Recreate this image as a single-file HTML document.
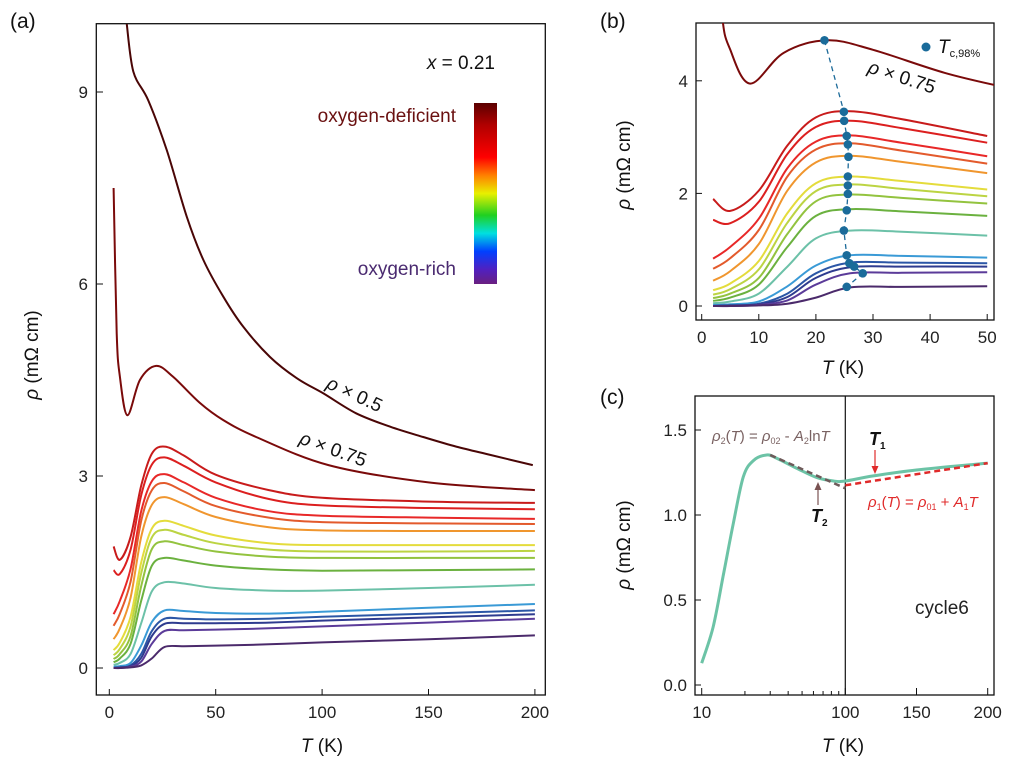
<!DOCTYPE html>
<html><head><meta charset="utf-8">
<style>
body{margin:0;background:#fff;width:1012px;height:760px;overflow:hidden}
svg{font-family:"Liberation Sans",Arial,sans-serif}
.tk{font-size:17px;fill:#222}
.lab{font-size:19px;fill:#111}
</style></head>
<body>
<svg id="fig" width="1012" height="760" viewBox="0 0 1012 760">
<defs>
<clipPath id="clipA"><rect x="96" y="24" width="449" height="671"/></clipPath>
<clipPath id="clipB"><rect x="696" y="23" width="298" height="297"/></clipPath>
<linearGradient id="cbar" x1="0" y1="0" x2="0" y2="1">
<stop offset="0" stop-color="#5a0000"/><stop offset="0.12" stop-color="#b00000"/><stop offset="0.3" stop-color="#ff0000"/><stop offset="0.4" stop-color="#ff8000"/><stop offset="0.5" stop-color="#e8f000"/><stop offset="0.62" stop-color="#20d020"/><stop offset="0.72" stop-color="#00e0e0"/><stop offset="0.82" stop-color="#0040ff"/><stop offset="0.92" stop-color="#5020c0"/><stop offset="1" stop-color="#6a2080"/>
</linearGradient>
</defs>
</svg>
<script>
// ---------- data ----------
const tempsSC = [2,5,10,15,20,26,35,50,75,100,150,200];
const curveColors = ["#c81b1b","#dc1f1f","#e82828","#e35a2c","#f0962e","#e4dc3c","#bcd443","#93c33f","#6bb13f","#6cc1a8","#3a9ad6","#2b56a6","#2e3b8f","#5b3b99","#4b2a6b"];
const rho1 = [1.90,1.69,2.05,2.85,3.35,3.46,3.32,3.02,2.78,2.66,2.60,2.58];
const rho2 = [1.53,1.47,1.85,2.70,3.18,3.29,3.16,2.90,2.64,2.54,2.50,2.48];
const rho3 = [0.84,1.05,1.55,2.45,2.92,3.03,2.90,2.66,2.45,2.38,2.35,2.33];
const rho4 = [0.66,0.85,1.35,2.30,2.78,2.89,2.76,2.53,2.35,2.28,2.26,2.25];
const rho5 = [0.45,0.62,1.10,2.05,2.55,2.67,2.56,2.36,2.20,2.15,2.14,2.14];
const rho6 = [0.28,0.40,0.80,1.65,2.18,2.30,2.22,2.07,1.95,1.92,1.92,1.92];
const rho7 = [0.20,0.30,0.65,1.48,2.04,2.16,2.08,1.95,1.85,1.82,1.82,1.83];
const rho8 = [0.14,0.22,0.50,1.28,1.86,1.98,1.92,1.82,1.74,1.72,1.72,1.72];
const rho9 = [0.09,0.15,0.38,1.05,1.60,1.72,1.68,1.60,1.54,1.52,1.53,1.54];
const rho10 = [0.05,0.08,0.22,0.70,1.20,1.34,1.32,1.25,1.21,1.21,1.25,1.30];
const rho11 = [0.02,0.03,0.08,0.35,0.72,0.90,0.89,0.86,0.85,0.88,0.94,1.00];
const rho12 = [0.00,0.01,0.04,0.22,0.58,0.77,0.77,0.76,0.77,0.80,0.85,0.90];
const rho13 = [0.00,0.01,0.03,0.16,0.50,0.69,0.70,0.70,0.71,0.74,0.79,0.84];
const rho14 = [0.00,0.00,0.02,0.10,0.38,0.58,0.59,0.60,0.62,0.65,0.71,0.77];
const rho15 = [0.00,0.00,0.01,0.04,0.15,0.33,0.34,0.35,0.37,0.40,0.45,0.51];
const scCurves = [rho1,rho2,rho3,rho4,rho5,rho6,rho7,rho8,rho9,rho10,rho11,rho12,rho13,rho14,rho15];
const tempsX75 = [2,3.5,5,8.5,14.4,22,30,42.6,53.5,69,103,150,200];
const rhoX75 = [7.50,5.23,4.55,3.95,4.50,4.72,4.55,4.14,3.875,3.61,3.17,2.90,2.78];
const tempsX50 = [8.2,11.3,18.3,27,36.4,44.2,53.6,63,75.5,88,100.6,116,132,147.5,163,179,199];
const rhoX50 = [10.07,9.32,8.87,8.09,7.05,6.375,5.80,5.33,4.86,4.53,4.29,3.98,3.77,3.61,3.46,3.33,3.17];
const tcT = [21.5,24.9,24.95,25.4,25.6,25.7,25.6,25.6,25.6,25.4,24.9,25.4,25.85,26.7,28.2,25.4];
const tcRho = [4.72,3.45,3.29,3.02,2.87,2.65,2.30,2.14,1.99,1.70,1.34,0.90,0.76,0.70,0.58,0.34];
const cT = [10,12,14.1,16.6,19.5,22.9,28.3,33.3,45.9,63.4,82.6,100,119.7,150,200];
const cRho = [0.128,0.34,0.64,0.95,1.225,1.32,1.353,1.334,1.275,1.22,1.20,1.20,1.23,1.265,1.305];
const fit2T = [30,100], fit2Rho = [1.353,1.157];
const fit1T = [100,200], fit1Rho = [1.175,1.305];
const ticksAX = [0,50,100,150,200], ticksAY = [0,3,6,9];
const ticksBX = [0,10,20,30,40,50], ticksBY = [0,2,4];
const ticksCX = [10,100,150,200], ticksCY = [0,0.5,1.0,1.5];

// ---------- axes ----------
const ax = t => 109.3 + t*2.128, ay = r => 668 - r*64;
const bx = t => 701.7 + t*5.71, by = r => 306 - r*56.3;
const cx = t => t<=100 ? 701.7 + Math.log10(t/10)*143.6 : 845.3 + (t-100)*1.424;
const cy = r => 685 - r*170;

const svg = document.getElementById('fig');
const NS = 'http://www.w3.org/2000/svg';
function mk(tag, attrs, parent){const e=document.createElementNS(NS,tag);for(const k in attrs)e.setAttribute(k,attrs[k]);(parent||svg).appendChild(e);return e;}
function smooth(pts){
  let d='M'+pts[0][0].toFixed(1)+','+pts[0][1].toFixed(1);
  for(let i=0;i<pts.length-1;i++){
    const p0=pts[i-1]||pts[i],p1=pts[i],p2=pts[i+1],p3=pts[i+2]||p2;
    const c1=[p1[0]+(p2[0]-p0[0])/6,p1[1]+(p2[1]-p0[1])/6];
    const c2=[p2[0]-(p3[0]-p1[0])/6,p2[1]-(p3[1]-p1[1])/6];
    d+=` C${c1[0].toFixed(1)},${c1[1].toFixed(1)} ${c2[0].toFixed(1)},${c2[1].toFixed(1)} ${p2[0].toFixed(1)},${p2[1].toFixed(1)}`;
  }
  return d;
}
function text(x,y,s,cls,anchor,extra){
  extra=extra||{};
  const a={x:x,y:y,'class':cls||'tk','text-anchor':anchor||'middle'};
  let style='';
  for(const k in extra){ if(k==='fill'||k==='font-size'){ style+=k+':'+extra[k]+(k==='font-size'?'px':'')+';'; } else a[k]=extra[k]; }
  if(style) a.style=style;
  const t=mk('text',a);t.innerHTML=s;return t;
}

// ---------- panel a ----------
const gA = mk('g',{});


const frA = mk('rect',{x:96.3,y:23.7,width:449,height:671.3,fill:'none',stroke:'#111','stroke-width':1.3},gA);


const curvesA = mk('g',{'clip-path':'url(#clipA)'},gA);
scCurves.forEach((arr,i)=>{
  const p = mk('path',{d:smooth(tempsSC.map((t,j)=>[ax(t),ay(arr[j])])),fill:'none',stroke:curveColors[i],'stroke-width':2},curvesA);
  
  
});
const pa75 = mk('path',{d:smooth(tempsX75.map((t,j)=>[ax(t),ay(rhoX75[j])])),fill:'none',stroke:'#7a0a0a','stroke-width':2},curvesA);


const pa50 = mk('path',{d:smooth(tempsX50.map((t,j)=>[ax(t),ay(rhoX50[j])])),fill:'none',stroke:'#4a0606','stroke-width':2},curvesA);


ticksAX.forEach(v=>{mk('line',{x1:ax(v),x2:ax(v),y1:695,y2:689,stroke:'#111'},gA);const t=text(ax(v),718,v);});
ticksAY.forEach(v=>{mk('line',{x1:96,x2:103,y1:ay(v),y2:ay(v),stroke:'#111'},gA);const t=text(88,ay(v)+6,v,'tk','end');});
let t;
t=text(322,752,'<tspan font-style="italic">T</tspan> (K)','lab');
t=text(0,0,'<tspan font-style="italic">ρ</tspan> (mΩ cm)','lab','middle',{transform:'translate(38,355) rotate(-90)'});
t=text(10,28,'(a)','lab','start',{'font-size':'21'});
t=text(495,69,'<tspan font-style="italic">x</tspan> = 0.21','lab','end',{'font-size':'19'});
t=text(456,122,'oxygen-deficient','lab','end',{'font-size':'19',fill:'#6a1010'});
t=text(456,275,'oxygen-rich','lab','end',{'font-size':'19',fill:'#4a2a70'});
const cb=mk('rect',{x:474,y:103,width:23,height:181,fill:'url(#cbar)'});
t=text(0,0,'<tspan font-style="italic">ρ</tspan> × 0.5','lab','middle',{'font-size':'19',transform:'translate(352,400) rotate(25)'});
t=text(0,0,'<tspan font-style="italic">ρ</tspan> × 0.75','lab','middle',{'font-size':'19',transform:'translate(331,455) rotate(20)'});

// ---------- panel b ----------
const gB = mk('g',{});


const frB = mk('rect',{x:696,y:23,width:298,height:297,fill:'none',stroke:'#111','stroke-width':1.3},gB);


const curvesB = mk('g',{'clip-path':'url(#clipB)'},gB);
const nB = tempsSC.filter(v=>v<=50).length;
scCurves.forEach((arr,i)=>{
  const p = mk('path',{d:smooth(tempsSC.slice(0,nB).map((t,j)=>[bx(t),by(arr[j])])),fill:'none',stroke:curveColors[i],'stroke-width':2},curvesB);
  
  
});
const nB75 = tempsX75.filter(v=>v<=54).length;
const pb75 = mk('path',{d:smooth(tempsX75.slice(0,nB75).map((t,j)=>[bx(t),by(rhoX75[j])])),fill:'none',stroke:'#7a0a0a','stroke-width':2},curvesB);


const tcLine = mk('polyline',{points:tcT.map((v,i)=>bx(v)+','+by(tcRho[i])).join(' '),fill:'none',stroke:'#1c6a99','stroke-width':1.3,'stroke-dasharray':'5,4'},gB);


tcT.forEach((v,i)=>{const c=mk('circle',{cx:bx(v),cy:by(tcRho[i]),r:4.3,fill:'#1a6b9a'},gB);});
const lg=mk('circle',{cx:926,cy:47,r:4.5,fill:'#1a6b9a'},gB);
t=text(938,53,'<tspan font-style="italic">T</tspan><tspan font-size="11" dy="4">c,98%</tspan>','lab','start',{'font-size':'19'});
t=text(0,0,'<tspan font-style="italic">ρ</tspan> × 0.75','lab','middle',{'font-size':'19',transform:'translate(900,83) rotate(18)'});
ticksBX.forEach(v=>{mk('line',{x1:bx(v),x2:bx(v),y1:320,y2:314,stroke:'#111'},gB);const t=text(bx(v),343,v);});
ticksBY.forEach(v=>{mk('line',{x1:696,x2:702,y1:by(v),y2:by(v),stroke:'#111'},gB);const t=text(688,by(v)+6,v,'tk','end');});
t=text(843,374,'<tspan font-style="italic">T</tspan> (K)','lab');
t=text(0,0,'<tspan font-style="italic">ρ</tspan> (mΩ cm)','lab','middle',{transform:'translate(630,165) rotate(-90)'});
t=text(600,28,'(b)','lab','start',{'font-size':'21'});

// ---------- panel c ----------
const gC = mk('g',{});


const frC = mk('rect',{x:695,y:396,width:299,height:299,fill:'none',stroke:'#111','stroke-width':1.3},gC);


mk('line',{x1:cx(100),x2:cx(100),y1:396,y2:695,stroke:'#111','stroke-width':1.2},gC);
const pc = mk('path',{d:smooth(cT.map((v,i)=>[cx(v),cy(cRho[i])])),fill:'none',stroke:'#6cc3a6','stroke-width':3},gC);


const f2 = mk('line',{x1:cx(fit2T[0]),y1:cy(fit2Rho[0]),x2:cx(fit2T[1]),y2:cy(fit2Rho[1]),stroke:'#6e5a5a','stroke-width':2.5,'stroke-dasharray':'6,4'},gC);


const f1 = mk('line',{x1:cx(fit1T[0]),y1:cy(fit1Rho[0]),x2:cx(fit1T[1]),y2:cy(fit1Rho[1]),stroke:'#e02a2a','stroke-width':2.5,'stroke-dasharray':'6,4'},gC);


ticksCX.forEach(v=>{mk('line',{x1:cx(v),x2:cx(v),y1:695,y2:688,stroke:'#111'},gC);const t=text(cx(v),718,v);});
[20,30,40,50,60,70,80,90].forEach(v=>mk('line',{x1:cx(v),x2:cx(v),y1:695,y2:691,stroke:'#111'},gC));
ticksCY.forEach(v=>{mk('line',{x1:695,x2:701,y1:cy(v),y2:cy(v),stroke:'#111'},gC);const t=text(687,cy(v)+6,v.toFixed(1),'tk','end');});
t=text(843,752,'<tspan font-style="italic">T</tspan> (K)','lab');
t=text(0,0,'<tspan font-style="italic">ρ</tspan> (mΩ cm)','lab','middle',{transform:'translate(630,545) rotate(-90)'});
t=text(600,404,'(c)','lab','start',{'font-size':'21'});
t=text(712,441,'<tspan font-style="italic">ρ</tspan><tspan font-size="9" dy="3">2</tspan><tspan dy="-3">(</tspan><tspan font-style="italic">T</tspan>) = <tspan font-style="italic">ρ</tspan><tspan font-size="9" dy="3">02</tspan><tspan dy="-3"> - </tspan><tspan font-style="italic">A</tspan><tspan font-size="9" dy="3">2</tspan><tspan dy="-3">ln</tspan><tspan font-style="italic">T</tspan>','lab','start',{'font-size':'15',fill:'#7a6262'});
t=text(868,507,'<tspan font-style="italic">ρ</tspan><tspan font-size="9" dy="3">1</tspan><tspan dy="-3">(</tspan><tspan font-style="italic">T</tspan>) = <tspan font-style="italic">ρ</tspan><tspan font-size="9" dy="3">01</tspan><tspan dy="-3"> + </tspan><tspan font-style="italic">A</tspan><tspan font-size="9" dy="3">1</tspan><tspan dy="-3" font-style="italic">T</tspan>','lab','start',{'font-size':'15',fill:'#e02a2a'});
t=text(869,445,'<tspan font-style="italic" font-weight="bold">T</tspan><tspan font-size="10" dy="4" font-weight="bold">1</tspan>','lab','start',{'font-size':'18'});
mk('line',{x1:875,x2:875,y1:450,y2:469,stroke:'#e02a2a','stroke-width':1.2},gC);
mk('path',{d:'M871.5,466 L875,474 L878.5,466 Z',fill:'#e02a2a'},gC);
t=text(811,522,'<tspan font-style="italic" font-weight="bold">T</tspan><tspan font-size="10" dy="4" font-weight="bold">2</tspan>','lab','start',{'font-size':'18'});
mk('line',{x1:818,x2:818,y1:505,y2:488,stroke:'#7a5252','stroke-width':1.2},gC);
mk('path',{d:'M814.5,490 L818,482 L821.5,490 Z',fill:'#7a5252'},gC);
t=text(915,614,'cycle6','lab','start',{'font-size':'19',fill:'#222'});
</script>
</body></html>
